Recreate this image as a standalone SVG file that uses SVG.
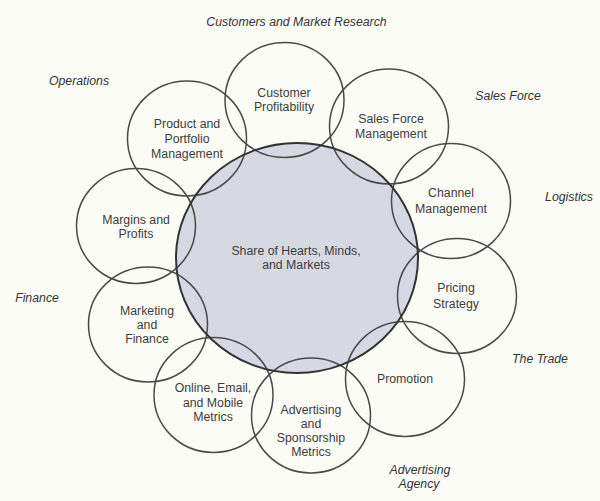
<svg xmlns="http://www.w3.org/2000/svg" width="600" height="501" viewBox="0 0 600 501">
  <style>
    .ring { fill: none; stroke: #4a4a4a; stroke-width: 1.5; }
    .hub { fill: #d6d9e1; stroke: none; }
    .hub-edge { fill: none; stroke: #333333; stroke-width: 2; }
    .node-text { font-family: "Liberation Sans", Arial, sans-serif; font-size: 12.3px; fill: #3c3c3c; text-anchor: middle; }
    .area { font-family: "Liberation Sans", Arial, sans-serif; font-size: 12.3px; font-style: italic; fill: #333333; text-anchor: middle; }
  </style>
  <rect x="0" y="0" width="600" height="501" fill="#fcfcf7"/>

  <!-- central disc fill sits beneath the surrounding rings -->
  <ellipse class="hub" cx="297" cy="258" rx="121" ry="115"/>

  <g id="customer-profitability">
    <ellipse class="ring" cx="284.5" cy="100" rx="59.5" ry="57.5"/>
    <text class="node-text" x="284" y="97">Customer</text>
    <text class="node-text" x="284" y="111">Profitability</text>
  </g>
  <g id="product-portfolio">
    <ellipse class="ring" cx="187" cy="138.5" rx="59.5" ry="57.5"/>
    <text class="node-text" x="187" y="128">Product and</text>
    <text class="node-text" x="187" y="143">Portfolio</text>
    <text class="node-text" x="187" y="157.5">Management</text>
  </g>
  <g id="sales-force-management">
    <ellipse class="ring" cx="389" cy="126.5" rx="59.5" ry="57.5"/>
    <text class="node-text" x="391" y="123">Sales Force</text>
    <text class="node-text" x="391" y="138">Management</text>
  </g>
  <g id="channel-management">
    <ellipse class="ring" cx="451" cy="201" rx="59.5" ry="57.5"/>
    <text class="node-text" x="451" y="197">Channel</text>
    <text class="node-text" x="451" y="213">Management</text>
  </g>
  <g id="pricing-strategy">
    <ellipse class="ring" cx="457" cy="296" rx="59.5" ry="57.5"/>
    <text class="node-text" x="456" y="292">Pricing</text>
    <text class="node-text" x="456" y="308">Strategy</text>
  </g>
  <g id="promotion">
    <ellipse class="ring" cx="405" cy="379" rx="59.5" ry="57.5"/>
    <text class="node-text" x="405" y="383">Promotion</text>
  </g>
  <g id="advertising-sponsorship">
    <ellipse class="ring" cx="311" cy="415.5" rx="59.5" ry="57.5"/>
    <text class="node-text" x="311" y="414">Advertising</text>
    <text class="node-text" x="311" y="428">and</text>
    <text class="node-text" x="311" y="442">Sponsorship</text>
    <text class="node-text" x="311" y="456">Metrics</text>
  </g>
  <g id="online-email-mobile">
    <ellipse class="ring" cx="213.5" cy="395" rx="59.5" ry="57.5"/>
    <text class="node-text" x="213" y="392">Online, Email,</text>
    <text class="node-text" x="213" y="407">and Mobile</text>
    <text class="node-text" x="213" y="421">Metrics</text>
  </g>
  <g id="marketing-finance">
    <ellipse class="ring" cx="148" cy="324.5" rx="59.5" ry="57.5"/>
    <text class="node-text" x="147" y="315">Marketing</text>
    <text class="node-text" x="147" y="329">and</text>
    <text class="node-text" x="147" y="343">Finance</text>
  </g>
  <g id="margins-profits">
    <ellipse class="ring" cx="136" cy="226" rx="59.5" ry="57.5"/>
    <text class="node-text" x="136" y="224">Margins and</text>
    <text class="node-text" x="136" y="238">Profits</text>
  </g>

  <g id="share-of-hearts">
    <ellipse class="hub-edge" cx="297" cy="258" rx="121" ry="115"/>
    <text class="node-text" x="296" y="255">Share of Hearts, Minds,</text>
    <text class="node-text" x="296" y="269">and Markets</text>
  </g>

  <g id="areas">
    <text class="area" x="296.5" y="26">Customers and Market Research</text>
    <text class="area" x="79" y="84.5">Operations</text>
    <text class="area" x="508" y="100">Sales Force</text>
    <text class="area" x="569" y="201">Logistics</text>
    <text class="area" x="37" y="302">Finance</text>
    <text class="area" x="540" y="363">The Trade</text>
    <text class="area" x="420" y="474">Advertising</text>
    <text class="area" x="419" y="488">Agency</text>
  </g>
</svg>
